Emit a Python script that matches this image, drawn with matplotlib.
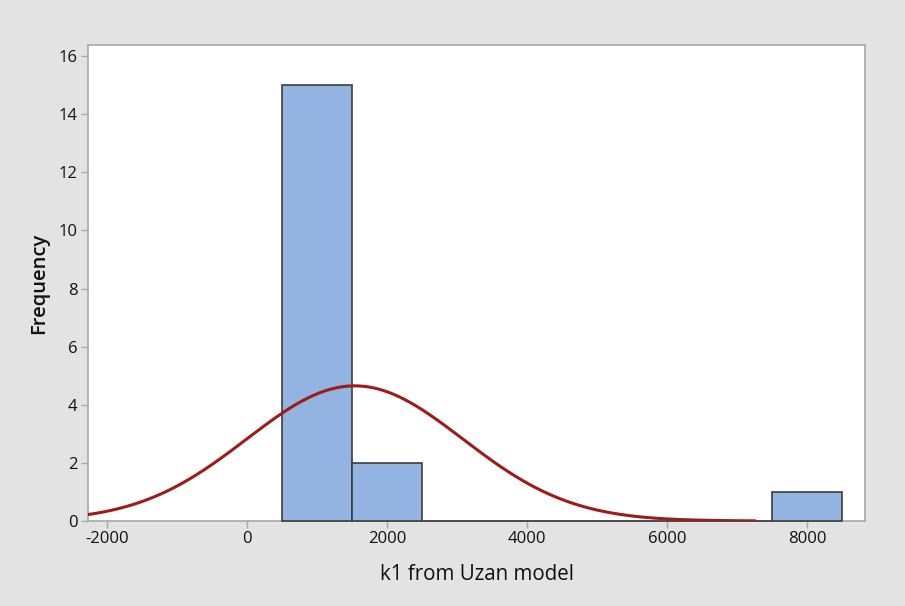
import numpy as np
import matplotlib.pyplot as plt

# histogram bins (midpoints) and counts
bin_mids = [1000, 2000, 3000, 4000, 5000, 6000, 7000, 8000]
counts = [15, 2, 0, 0, 0, 0, 0, 1]
bin_width = 1000

# normal fit parameters
fit_mean = 1540
fit_sd = 1544
n_obs = 18
curve_range = (-2271, 7250)

xticks = [-2000, 0, 2000, 4000, 6000, 8000]
yticks = [0, 2, 4, 6, 8, 10, 12, 14, 16]

plt.rcParams['font.family'] = ['Open Sans', 'DejaVu Sans']
plt.rcParams['axes.unicode_minus'] = False

fig = plt.figure(figsize=(9.05, 6.06), dpi=100)
fig.patch.set_facecolor('#e3e3e3')
ax = fig.add_axes([88/905, 1-521/606, (865-88)/905, (521-45)/606])
ax.set_facecolor('white')

ax.bar(bin_mids, counts, width=bin_width, color='#93b4e0',
       edgecolor='#3c3c3c', linewidth=1.2, zorder=3, clip_on=False)

xs = np.linspace(curve_range[0], curve_range[1], 400)
ys = n_obs * bin_width * np.exp(-(xs - fit_mean)**2 / (2*fit_sd**2)) / (fit_sd*np.sqrt(2*np.pi))
ax.plot(xs, ys, color='#9e1b1b', linewidth=2.2, zorder=4)

ax.set_xlim(-2271, 8829)
ax.set_ylim(0, 16.38)
ax.set_xticks(xticks)
ax.set_yticks(yticks)
for s in ax.spines.values():
    s.set_color('#a8a8a8')
    s.set_linewidth(1.2)
    s.set_zorder(1)
ax.tick_params(colors='#a8a8a8', labelcolor='#111111', labelsize=12, length=5, width=1, pad=2.5)

ax.set_xlabel('k1 from Uzan model', fontsize=14.8, color='#111111', labelpad=12)
ax.set_ylabel('Frequency', fontsize=14.5, color='#111111', fontweight='semibold', labelpad=7)

fig.savefig('out.png', dpi=100, facecolor=fig.get_facecolor())
